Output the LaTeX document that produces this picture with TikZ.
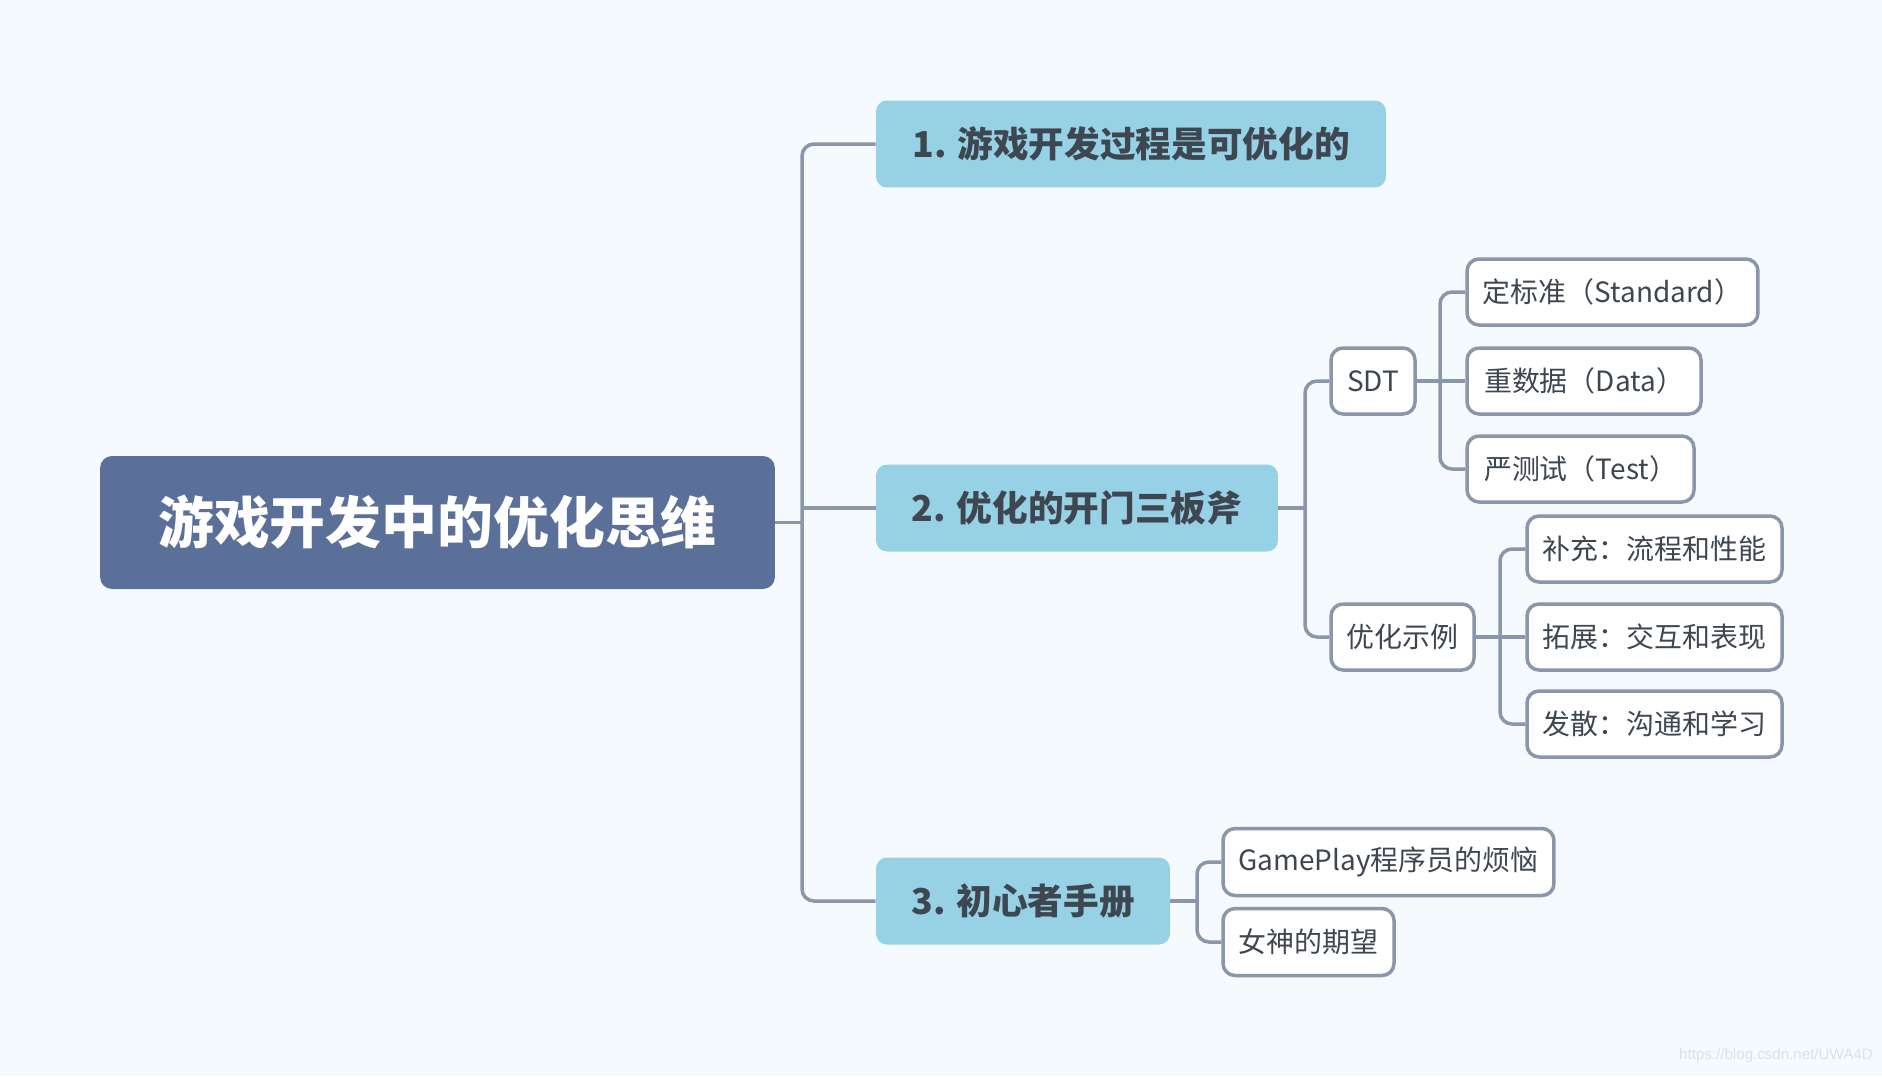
\documentclass[tikz,border=0pt]{standalone}
\usepackage{fontspec}
\setmainfont{Noto Sans CJK SC}
\newfontfamily\urlfont{Liberation Sans}
\definecolor{bgcol}{HTML}{F5FAFE}
\definecolor{rootcol}{HTML}{5A7098}
\definecolor{maincol}{HTML}{96D1E6}
\definecolor{inkcol}{HTML}{3E4650}
\definecolor{linecol}{HTML}{8A96A9}
\definecolor{markcol}{HTML}{DCE1E6}
\begin{document}
\begin{tikzpicture}[x=0.02cm,y=-0.02cm,
    rootbox/.style={rectangle, rounded corners=0.24cm, fill=rootcol, text=white, inner sep=0pt,
        minimum height=2.66cm, font=\fontsize{31.8}{38}\selectfont\bfseries},
    mainbox/.style={rectangle, rounded corners=0.22cm, fill=maincol, text=inkcol, inner sep=0pt,
        minimum height=1.74cm, font=\fontsize{20.3}{25}\selectfont\bfseries},
    leafbox/.style={rectangle, rounded corners=0.24cm, draw=linecol, line width=0.07cm, fill=white,
        text=inkcol, inner sep=0pt, minimum height=1.32cm, font=\fontsize{15.9}{19}\selectfont},
    conn/.style={draw=linecol, line width=0.07cm, rounded corners=0.24cm}]
    \fill[bgcol] (0,0) rectangle (1882,1076);
    \useasboundingbox (0,0) rectangle (1882,1076);

    % root and first level
    \node[rootbox, minimum width=13.5cm] (root) at (437.5,522.5) {游戏开发中的优化思维};
    \node[mainbox, minimum width=10.2cm] (n1) at (1131,144) {1. 游戏开发过程是可优化的};
    \node[mainbox, minimum width=8.04cm] (n2) at (1077,508) {2. 优化的开门三板斧};
    \node[mainbox, minimum width=5.88cm] (n3) at (1023,901) {3. 初心者手册};

    % second level
    \node[leafbox, minimum width=1.68cm] (sdt) at (1373,381) {SDT};
    \node[leafbox, minimum width=2.86cm] (demo) at (1402.5,637) {优化示例};

    \node[leafbox, minimum width=5.82cm] (std) at (1612.5,292) {定标准（Standard）};
    \node[leafbox, minimum width=4.68cm] (data) at (1584,381) {重数据（Data）};
    \node[leafbox, minimum width=4.54cm] (test) at (1580.5,469) {严测试（Test）};

    \node[leafbox, minimum width=5.1cm] (flow) at (1654.5,549) {补充：流程和性能};
    \node[leafbox, minimum width=5.1cm] (play) at (1654.5,637) {拓展：交互和表现};
    \node[leafbox, minimum width=5.1cm] (talk) at (1654.5,724) {发散：沟通和学习};

    \node[leafbox, minimum width=6.62cm, minimum height=1.34cm] (gp) at (1388.5,862) {GamePlay程序员的烦恼};
    \node[leafbox, minimum width=3.42cm, minimum height=1.34cm] (hope) at (1308.5,942) {女神的期望};

    % trunks
    \coordinate (t0) at (802,522.5);
    \coordinate (t2) at (1305,508);
    \coordinate (ts) at (1440,381);
    \coordinate (td) at (1500,637);
    \coordinate (t3) at (1197,901);

    \draw[conn] (root.east) -- (t0);
    \draw[conn] (t0) |- (n1.west);
    \draw[conn] (t0) |- (n3.west);
    \draw[conn] (n2.west -| t0) -- (n2.west);

    \draw[conn] (n2.east) -- (t2);
    \draw[conn] (t2) |- (sdt.west);
    \draw[conn] (t2) |- (demo.west);

    \draw[conn] (sdt.east) -- (ts);
    \draw[conn] (ts) |- (std.west);
    \draw[conn] (ts) -- (data.west);
    \draw[conn] (ts) |- (test.west);

    \draw[conn] (demo.east) -- (td);
    \draw[conn] (td) |- (flow.west);
    \draw[conn] (td) -- (play.west);
    \draw[conn] (td) |- (talk.west);

    \draw[conn] (n3.east) -- (t3);
    \draw[conn] (t3) |- (gp.west);
    \draw[conn] (t3) |- (hope.west);

    \node[anchor=east, text=markcol, inner sep=0pt, font=\urlfont\fontsize{8.6}{10}\selectfont] (mark) at (1873,1056) {https://blog.csdn.net/UWA4D};
\end{tikzpicture}
\end{document}
